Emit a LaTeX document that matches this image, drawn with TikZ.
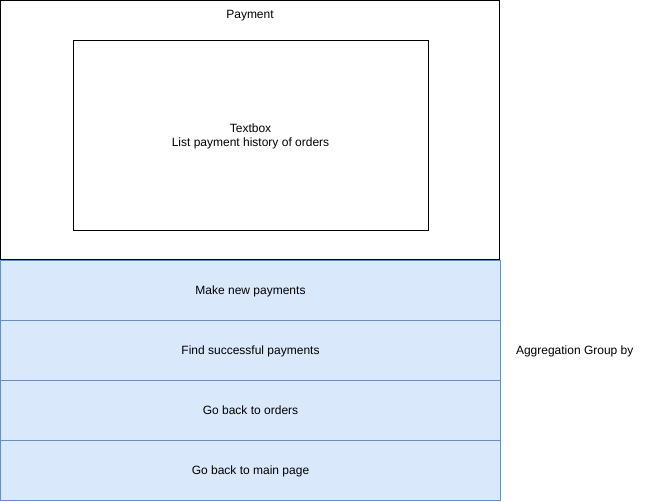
\documentclass[tikz,border=0pt]{standalone}
\usepackage{fontspec}
\setmainfont{Liberation Sans}
\definecolor{bluefill}{HTML}{DAE8FC}
\definecolor{blueline}{HTML}{6C8EBF}
\begin{document}
\begin{tikzpicture}[x=0.75pt,y=-0.75pt,
  every node/.style={font=\fontsize{9pt}{10.5pt}\selectfont, inner sep=0pt, outer sep=0pt},
  bluebox/.style={draw=blueline, fill=bluefill, line width=0.75pt, minimum width=375pt, minimum height=45pt, anchor=north west, text depth=-1.5pt},
  plainbox/.style={draw=black, line width=0.75pt, anchor=north west}]
\useasboundingbox (0,0) rectangle (645,501);
\node[plainbox, minimum width=374.6pt, minimum height=194.6pt] (outer) at (0.5,0.5) {};
\node[anchor=center] (title) at (250,15.5) {Payment};
\node[plainbox, minimum width=266.25pt, minimum height=142.5pt] (inner) at (73,40.5) {};
\node[align=center] (innertext) at (250.5,136) {Textbox\\List payment history of orders};
\node[bluebox] (b1) at (0.5,260.5) {Make new payments};
\node[bluebox] (b2) at (0.5,320.5) {Find successful payments};
\node[bluebox] (b3) at (0.5,380.5) {Go back to orders};
\node[bluebox] (b4) at (0.5,440.5) {Go back to main page};
\node[anchor=west] (agg) at (516,351) {Aggregation Group by};
\end{tikzpicture}
\end{document}
